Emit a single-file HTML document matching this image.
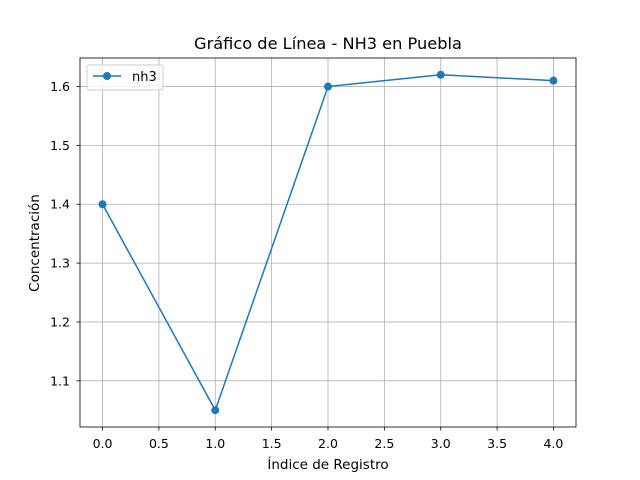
<!DOCTYPE html>
<html><head><meta charset="utf-8"><style>
body{margin:0;background:#fff}
svg{display:block;font-family:"DejaVu Sans","Liberation Sans",sans-serif}
</style></head><body>
<svg id="chart" width="640" height="480" viewBox="0 0 640 480">
<rect width="640" height="480" fill="#fff"/>
<g id="grid"></g>
<g id="axes"></g>
<g id="series"></g>
<text x="328" y="49" font-size="16.2" text-anchor="middle" fill="#000">Gráfico de Línea - NH3 en Puebla</text>
<text x="328" y="469" font-size="13.5" text-anchor="middle" fill="#000">Índice de Registro</text>
<text x="39" y="243" font-size="13.5" text-anchor="middle" fill="#000" transform="rotate(-90 39 243)">Concentración</text>
<g>
<rect x="87" y="65" width="76" height="25" rx="2" fill="#fff" fill-opacity="0.8" stroke="#ccc"/>
<line x1="93" y1="76" x2="121" y2="76" stroke="#1f77b4" stroke-width="1.5"/>
<circle cx="107" cy="76" r="4" fill="#1f77b4"/>
<text x="132" y="81" font-size="13" fill="#000">nh3</text>
</g>
</svg>
<script>
const xValues=[0,1,2,3,4];
const nh3Values=[1.4,1.05,1.6,1.62,1.61];
const xTicks=[0,0.5,1,1.5,2,2.5,3,3.5,4];
const yTicks=[1.1,1.2,1.3,1.4,1.5,1.6];
const L=80,R=576,T=58,B=427;
const x0=-0.2,x1=4.2,y0=1.0215,y1=1.6485;
const sx=v=>L+(v-x0)/(x1-x0)*(R-L);
const sy=v=>B-(v-y0)/(y1-y0)*(B-T);
const NS="http://www.w3.org/2000/svg";
function mk(t,a,p){const e=document.createElementNS(NS,t);for(const k in a)e.setAttribute(k,a[k]);p.appendChild(e);return e;}
const grid=document.getElementById('grid'),axes=document.getElementById('axes'),ser=document.getElementById('series');
xTicks.forEach(v=>{const x=sx(v);
 const g=mk('line',{x1:x,x2:x,y1:T,y2:B,stroke:'#b0b0b0','stroke-width':0.8},grid);
 
 
 mk('line',{x1:x,x2:x,y1:B,y2:B+3.5,stroke:'#000','stroke-width':0.8},axes);
 const t=mk('text',{x:x,y:B+21,'font-size':12.5,'text-anchor':'middle'},axes);t.textContent=v.toFixed(1);
 
 
});
yTicks.forEach(v=>{const y=sy(v);
 const g=mk('line',{x1:L,x2:R,y1:y,y2:y,stroke:'#b0b0b0','stroke-width':0.8},grid);
 
 
 mk('line',{x1:L-3.5,x2:L,y1:y,y2:y,stroke:'#000','stroke-width':0.8},axes);
 const t=mk('text',{x:L-10,y:y+4.5,'font-size':12.5,'text-anchor':'end'},axes);t.textContent=v.toFixed(1);
 
 
});
const fr=mk('rect',{x:L,y:T,width:R-L,height:B-T,fill:'none',stroke:'#000','stroke-width':0.8},axes);


const pl=mk('polyline',{points:xValues.map((v,i)=>sx(v)+','+sy(nh3Values[i])).join(' '),fill:'none',stroke:'#1f77b4','stroke-width':1.5},ser);


xValues.forEach((v,i)=>{const c=mk('circle',{cx:sx(v),cy:sy(nh3Values[i]),r:4,fill:'#1f77b4'},ser);
 
 
});
</script>
</body></html>
